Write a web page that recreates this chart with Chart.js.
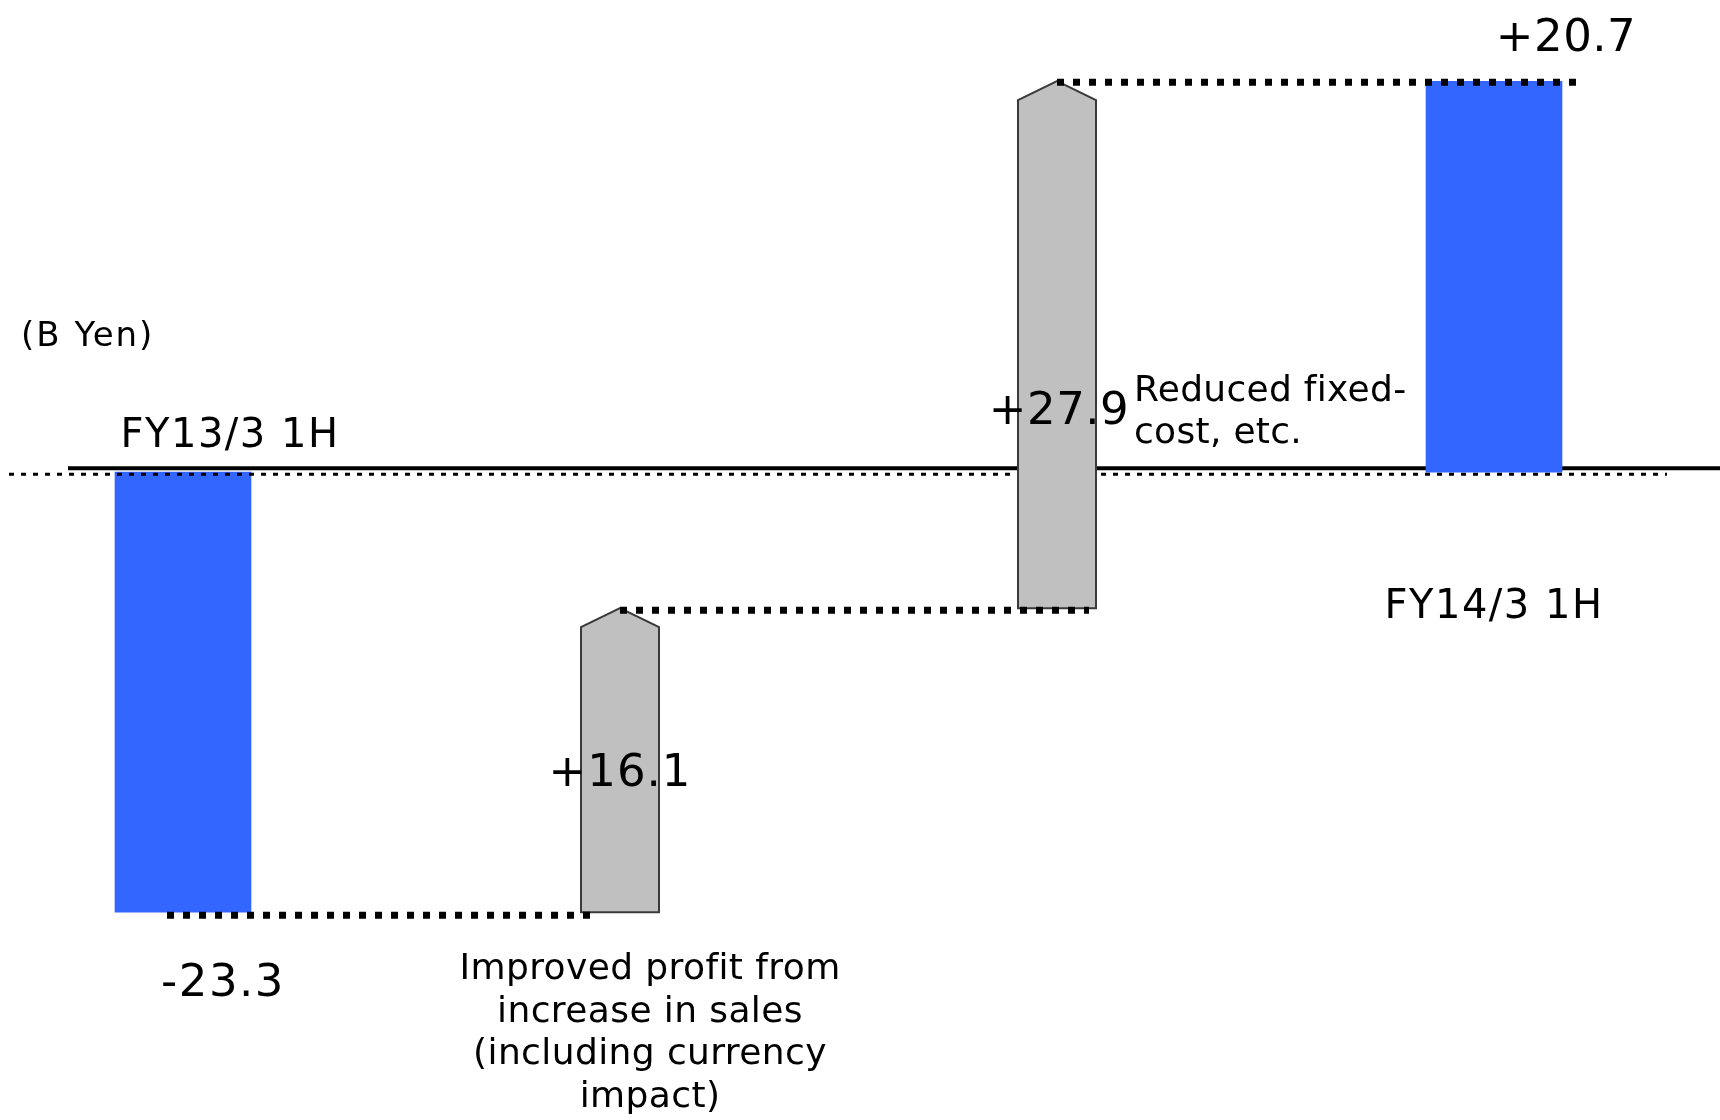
<!DOCTYPE html>
<html>
<head>
<meta charset="utf-8">
<script src="https://cdn.jsdelivr.net/npm/chart.js@4/dist/chart.umd.min.js"></script>
<style>
  html, body { margin: 0; padding: 0; background: #ffffff; }
  #chart { display: block; }
</style>
</head>
<body>
<canvas id="chart" width="1720" height="1120"></canvas>
<script>
// Operating result bridge, FY13/3 1H -> FY14/3 1H (billions of yen)
const categories = [
  ['FY13/3 1H'],
  ['Improved profit from', 'increase in sales', '(including currency', 'impact)'],
  ['Reduced fixed-', 'cost, etc.'],
  ['FY14/3 1H']
];
const unitLabel = '(B Yen)';
const startResult = -23.3;          // FY13/3 1H
const changes = [16.1, 27.9];       // improvement factors
const endResult = 20.7;             // FY14/3 1H

// Totals are drawn from zero, changes float on the running sum
const totalBars = [[startResult, 0], null, null, [0, endResult]];
const stepBars = [null];
let running = startResult;
changes.forEach(c => {
  const next = Math.round((running + c) * 10) / 10;
  stepBars.push([running, next]);
  running = next;
});
stepBars.push(null);
const shownValues = [startResult, ...changes, endResult];

const fmt = v => (v > 0 ? '+' : '') + v.toFixed(1);
const FONT = '"DejaVu Sans", Verdana, sans-serif';

function drawText(ctx, str, x, y, size, align, spacing) {
  ctx.save();
  ctx.font = size + 'px ' + FONT;
  ctx.fillStyle = '#000000';
  ctx.textAlign = align;
  ctx.textBaseline = 'alphabetic';
  if ('letterSpacing' in ctx) ctx.letterSpacing = (spacing || 0) + 'px';
  ctx.fillText(str, x, y);
  ctx.restore();
}

function dotted(ctx, x1, x2, y, width, dash, gap) {
  ctx.save();
  ctx.strokeStyle = '#000000';
  ctx.lineWidth = width;
  ctx.lineCap = 'butt';
  ctx.setLineDash([dash, gap]);
  ctx.beginPath();
  ctx.moveTo(x1, y);
  ctx.lineTo(x2, y);
  ctx.stroke();
  ctx.restore();
}

const bridgeDecor = {
  id: 'bridgeDecor',
  beforeDatasetsDraw(chart) {
    const { ctx, scales: { y } } = chart;
    const y0 = y.getPixelForValue(0);
    // solid baseline behind the bars
    ctx.save();
    ctx.strokeStyle = '#000000';
    ctx.lineWidth = 4;
    ctx.beginPath();
    ctx.moveTo(68, y0 - 4);
    ctx.lineTo(chart.width, y0 - 4);
    ctx.stroke();
    ctx.restore();
  },
  afterDatasetsDraw(chart) {
    const { ctx, scales: { y } } = chart;
    const y0 = y.getPixelForValue(0);
    const totals = chart.getDatasetMeta(0).data.map(el => el.getProps(['x', 'y', 'base', 'width'], true));
    const steps = chart.getDatasetMeta(1).data.map(el => el.getProps(['x', 'y', 'base', 'width'], true));

    // dotted zero line
    dotted(ctx, 9, 1667, y0 + 2, 3, 5, 7);

    // arrow-shaped change bars
    const head = 19;
    stepBars.forEach((v, i) => {
      if (!v) return;
      const b = steps[i];
      const top = Math.min(b.y, b.base), bottom = Math.max(b.y, b.base);
      const l = b.x - b.width / 2, r = b.x + b.width / 2;
      ctx.save();
      ctx.beginPath();
      ctx.moveTo(l, bottom);
      ctx.lineTo(l, top + head);
      ctx.lineTo(b.x, top);
      ctx.lineTo(r, top + head);
      ctx.lineTo(r, bottom);
      ctx.closePath();
      ctx.fillStyle = '#C0C0C0';
      ctx.fill();
      ctx.strokeStyle = '#3a3a3a';
      ctx.lineWidth = 2;
      ctx.stroke();
      ctx.restore();
    });

    // connectors at the running totals
    const b0 = totals[0], s1 = steps[1], s2 = steps[2], b3 = totals[3];
    dotted(ctx, b0.x - 16, s1.x - s1.width / 2 + 11, Math.max(b0.y, b0.base) + 3, 7, 7, 9);
    dotted(ctx, s1.x, s2.x + s2.width / 2 - 7, Math.min(s1.y, s1.base) + 2, 7, 7, 9);
    dotted(ctx, s2.x, b3.x + b3.width / 2 + 17, Math.min(b3.y, b3.base) + 1, 7, 7, 9);

    // texts
    drawText(ctx, unitLabel, 21, 346, 34, 'left', 2);

    drawText(ctx, categories[0][0], b0.x + 47, y0 - 25, 40, 'center', 1.5);
    drawText(ctx, fmt(shownValues[0]), b0.x + 40, Math.max(b0.y, b0.base) + 84, 45, 'center', 1.5);

    const mid1 = (s1.y + s1.base) / 2;
    drawText(ctx, fmt(shownValues[1]), s1.x, mid1 + 26, 45, 'center', 1);
    categories[1].forEach((line, k) => {
      drawText(ctx, line, s1.x + 30, 979 + k * 42.7, 36, 'center', 0.4);
    });

    drawText(ctx, fmt(shownValues[2]), s2.x + 2, y0 - 48, 45, 'center', 0.5);
    categories[2].forEach((line, k) => {
      drawText(ctx, line, s2.x + s2.width / 2 + 38, y0 - 71 + k * 42, 36, 'left', 0.3);
    });

    drawText(ctx, categories[3][0], b3.x, y0 + 146, 40, 'center', 1.5);
    drawText(ctx, fmt(shownValues[3]), b3.x + 72, Math.min(b3.y, b3.base) - 30, 45, 'center', 0.5);
  }
};

new Chart(document.getElementById('chart').getContext('2d'), {
  type: 'bar',
  data: {
    labels: categories,
    datasets: [
      {
        label: 'Result',
        data: totalBars,
        backgroundColor: '#3366FF',
        borderWidth: 0,
        barThickness: 136,
        grouped: false,
        clip: false
      },
      {
        label: 'Change',
        data: stepBars,
        backgroundColor: 'rgba(0,0,0,0)',
        borderWidth: 0,
        barThickness: 78,
        grouped: false,
        clip: false
      }
    ]
  },
  options: {
    responsive: false,
    animation: false,
    events: [],
    layout: { padding: { left: 183, right: 226, top: 0, bottom: 0 } },
    plugins: { legend: { display: false }, tooltip: { enabled: false } },
    scales: {
      x: { display: false, offset: false, grid: { offset: false } },
      y: { display: false, min: -34.3, max: 25.0 }
    }
  },
  plugins: [bridgeDecor]
});
</script>
</body>
</html>
